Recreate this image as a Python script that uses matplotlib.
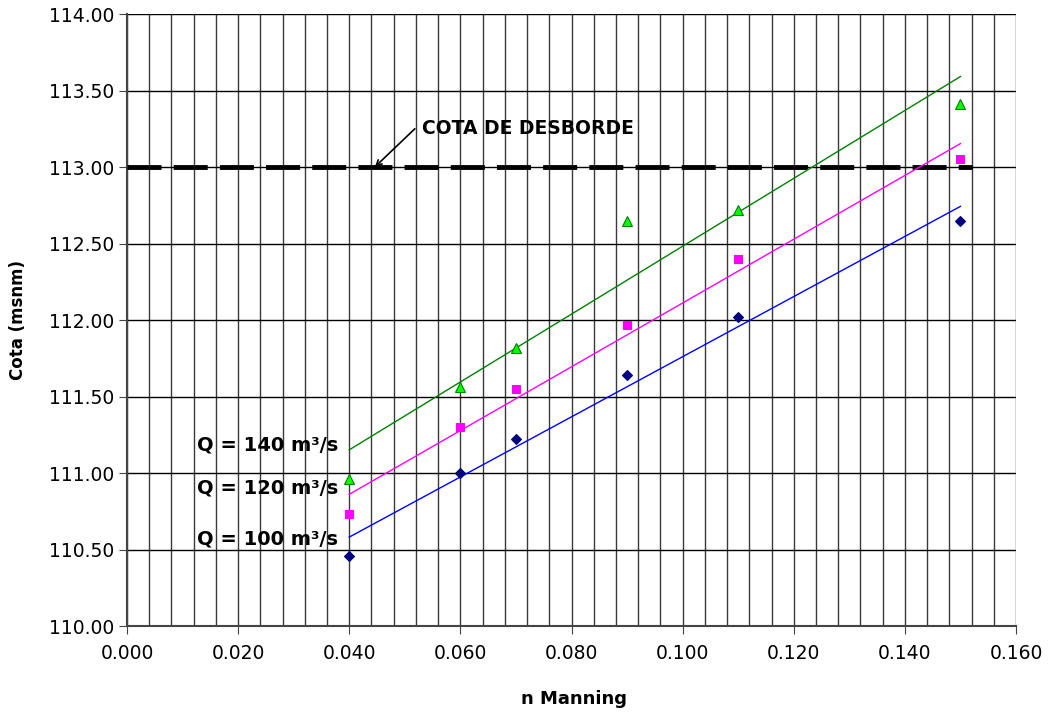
import numpy as np
import matplotlib.pyplot as plt
from matplotlib.ticker import MultipleLocator, FormatStrFormatter

plt.rcParams['font.family'] = ['DejaVu Sans']

# datos
n_manning = [0.04, 0.06, 0.07, 0.09, 0.11, 0.15]
cota_q100 = [110.46, 111.00, 111.22, 111.64, 112.02, 112.65]
cota_q120 = [110.73, 111.30, 111.55, 111.97, 112.40, 113.05]
cota_q140 = [110.96, 111.56, 111.82, 112.65, 112.72, 113.41]
cota_desborde = 113.0
desborde_x = [0.0, 0.152]

fig = plt.figure(figsize=(10.62, 7.19), dpi=100)
ax = fig.add_axes([0.1196, 0.1293, 0.8371, 0.8512])

ax.set_xlim(0, 0.16)
ax.set_ylim(110, 114)
ax.xaxis.set_major_locator(MultipleLocator(0.02))
ax.xaxis.set_minor_locator(MultipleLocator(0.004))
ax.yaxis.set_major_locator(MultipleLocator(0.5))
ax.xaxis.set_major_formatter(FormatStrFormatter('%.3f'))
ax.yaxis.set_major_formatter(FormatStrFormatter('%.2f'))

ax.grid(True, which='both', axis='x', color='#3a3a3a', lw=1)
ax.grid(True, which='major', axis='y', color='black', lw=1)
ax.set_axisbelow(True)
ax.tick_params(axis='x', which='minor', length=0)
ax.tick_params(axis='both', which='major', direction='out', length=6,
               labelsize=13.5, color='#444444')
ax.tick_params(axis='x', pad=7)
ax.tick_params(axis='y', pad=3)
for s in ['top', 'right']:
    ax.spines[s].set_visible(False)
ax.spines['left'].set_color('#444444')
ax.spines['bottom'].set_color('#444444')
ax.spines['left'].set_linewidth(1.5)
ax.spines['bottom'].set_linewidth(1.5)

# linea de desborde
ax.plot(desborde_x, [cota_desborde] * 2, color='black', lw=3.5,
        dashes=(7, 2.5), zorder=3)
ax.annotate('', xy=(0.0446, cota_desborde), xytext=(0.0518, 113.25),
            arrowprops=dict(arrowstyle='->', color='black', lw=1.2,
                            shrinkA=0, shrinkB=0))
ax.text(0.0531, 113.25, 'COTA DE DESBORDE', fontsize=13.5,
        fontweight='bold', va='center', ha='left')

series = [
    (cota_q100, 'D', '#000080', '#000080', '#0000FF', 5),
    (cota_q120, 's', '#FF00FF', '#FF00FF', '#FF00FF', 6),
    (cota_q140, '^', '#00FF00', '#008000', '#008000', 7),
]
x = np.array(n_manning)
for y, mk, fc, ec, lc, ms in series:
    a, b = np.polyfit(x, y, 1)
    xs = np.array([x.min(), x.max()])
    ax.plot(xs, a * xs + b, color=lc, lw=1, zorder=4)
    ax.plot(x, y, linestyle='none', marker=mk, ms=ms, mfc=fc, mec=ec,
            mew=0.8, zorder=5)

ax.text(0.0126, 111.18, 'Q = 140 m³/s', fontsize=14, fontweight='bold',
        va='center', ha='left')
ax.text(0.0126, 110.90, 'Q = 120 m³/s', fontsize=14, fontweight='bold',
        va='center', ha='left')
ax.text(0.0126, 110.57, 'Q = 100 m³/s', fontsize=14, fontweight='bold',
        va='center', ha='left')

fig.text(0.5405, 0.015, 'n Manning', fontsize=13, fontweight='bold',
         ha='center', va='bottom')
fig.text(0.017, 0.555, 'Cota (msnm)', fontsize=12, fontweight='bold',
         rotation=90, ha='center', va='center')

fig.savefig('out.png', dpi=100)
